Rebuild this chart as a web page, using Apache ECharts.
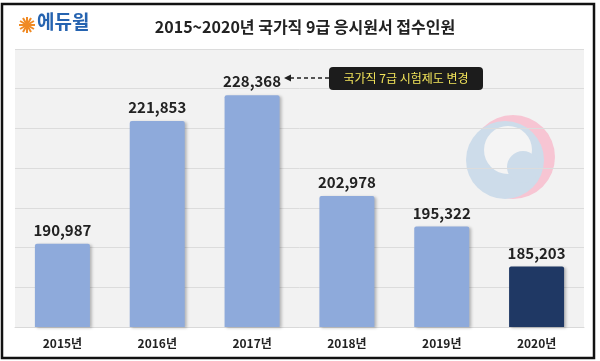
<!DOCTYPE html>
<html>
<head>
<meta charset="utf-8">
<script src="https://cdn.jsdelivr.net/npm/echarts@6/dist/echarts.min.js"></script>
<style>
html,body{margin:0;padding:0;background:#fff;}
#c{width:600px;height:361px;}
</style>
</head>
<body>
<div id="c"></div>
<script>
const categories = ['2015년', '2016년', '2017년', '2018년', '2019년', '2020년'];
const applicants = [190987, 221853, 228368, 202978, 195322, 185203];
const highlightIndex = 5;
const titleText = '2015~2020년 국가직 9급 응시원서 접수인원';
const noteText = '국가직 7급 시험제도 변경';
const brandText = '에듀윌';

const FONT = '"Noto Sans CJK KR", "Noto Sans", sans-serif';
const chart = echarts.init(document.getElementById('c'), null, {renderer: 'canvas'});

const barData = applicants.map((v, i) => ({
  value: v,
  itemStyle: {color: i === highlightIndex ? '#1f3864' : '#8eaadb'}
}));

// sun-like logo mark
const sun = [];
for (let k = 0; k < 12; k++) {
  const a = k * Math.PI / 6;
  sun.push({
    type: 'line',
    shape: {x1: 27 + Math.cos(a) * 2, y1: 25 + Math.sin(a) * 2, x2: 27 + Math.cos(a) * 8, y2: 25 + Math.sin(a) * 8},
    style: {stroke: '#f08a24', lineWidth: 2}
  });
}

const EB = '#cddcea', EW = '#f4f4f4', EP = '#f7c5d3';
const emblem = [
  {type: 'circle', shape: {cx: 513, cy: 157, r: 42}, style: {fill: EP}, z: -1, silent: true},
  {type: 'circle', shape: {cx: 505, cy: 160, r: 39}, style: {fill: EB}, z: -1, silent: true},
  {type: 'circle', shape: {cx: 508, cy: 150, r: 24}, style: {fill: EW}, z: -1, silent: true},
  {type: 'circle', shape: {cx: 523, cy: 167, r: 16}, style: {fill: EB}, z: -1, silent: true}
];

const option = {
  backgroundColor: '#ffffff',
  animation: false,
  title: {
    text: titleText,
    left: 300, top: 14, textAlign: 'center',
    textStyle: {fontFamily: FONT, fontSize: 16, fontWeight: 'bold', color: '#222'}
  },
  grid: {left: 15, right: 16, top: 49, bottom: 34, show: false},
  xAxis: {
    type: 'category',
    data: categories,
    axisLine: {show: true, lineStyle: {color: '#d9d9d9', width: 1}},
    axisTick: {show: false},
    axisLabel: {fontFamily: FONT, fontSize: 12, fontWeight: 'bold', color: '#222', margin: 10}
  },
  yAxis: {
    type: 'value',
    min: 170000, max: 240000, interval: 10000,
    axisLabel: {show: false},
    axisLine: {show: false},
    axisTick: {show: false},
    splitLine: {lineStyle: {color: '#dcdcdc', width: 1}}
  },
  series: [{
    type: 'bar',
    data: barData,
    barWidth: '58%',
    z: 5,
    itemStyle: {borderRadius: [2, 2, 0, 0], shadowBlur: 3, shadowOffsetX: 2, shadowOffsetY: 1, shadowColor: 'rgba(0,0,0,0.25)'},
    label: {
      show: true, position: 'top', distance: 6,
      fontFamily: FONT, fontSize: 15, fontWeight: 'bold', color: '#222',
      formatter: p => p.value.toLocaleString('en-US')
    }
  }],
  graphic: [
    // plot background
    {type: 'rect', shape: {x: 15, y: 49, width: 569, height: 278}, style: {fill: '#f2f2f2'}, z: -2, silent: true},
    ...emblem,
    // outer black frame
    {type: 'rect', shape: {x: 2, y: 4, width: 592, height: 354}, style: {fill: 'none', stroke: '#111', lineWidth: 2.5}, z: 100},
    // brand logo
    {type: 'group', children: sun, z: 50},
    {type: 'circle', shape: {cx: 27, cy: 25, r: 2.5}, style: {fill: '#f08a24'}, z: 50},
    {type: 'text', left: 37, top: 12, style: {text: brandText, fontFamily: FONT, fontSize: 19, fontWeight: 'bold', fill: '#2563b0'}, z: 50},
    // annotation arrow + box
    {type: 'line', shape: {x1: 290, y1: 78, x2: 329, y2: 78}, style: {stroke: '#222', lineWidth: 1.3, lineDash: [4, 3]}, z: 50},
    {type: 'polygon', shape: {points: [[284, 78], [291, 74.5], [291, 81.5]]}, style: {fill: '#222'}, z: 50},
    {type: 'rect', shape: {x: 329, y: 67, width: 154, height: 23, r: 4}, style: {fill: '#1c1c1c'}, z: 50},
    {type: 'text', x: 406, y: 78.5, style: {text: noteText, fontFamily: FONT, fontSize: 12, fill: '#f1e35a', align: 'center', verticalAlign: 'middle'}, z: 51}
  ]
};
chart.setOption(option);
</script>
</body>
</html>
